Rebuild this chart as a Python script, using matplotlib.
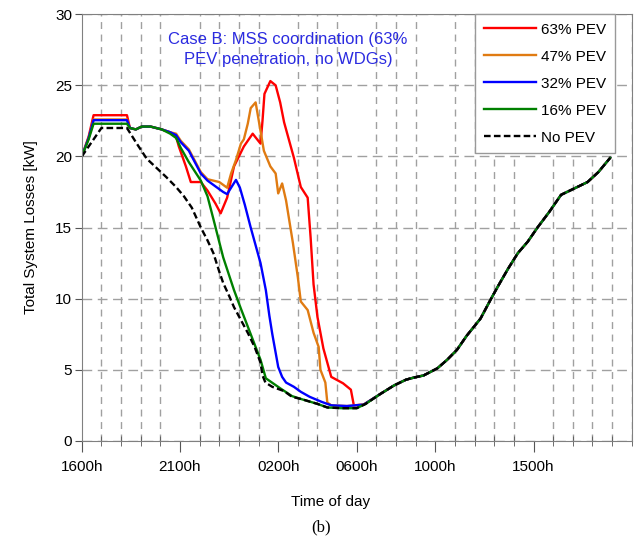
import numpy as np
import matplotlib
matplotlib.use("Agg")
import matplotlib.pyplot as plt

plt.rcParams['font.family'] = ['Liberation Sans', 'DejaVu Sans']

# hours after 1600h
tick_hours = [0, 5, 10, 14, 18, 23]
tick_labels = ['1600h', '2100h', '0200h', '0600h', '1000h', '1500h']

# common part once every case has finished charging
tail_h = [15.2, 15.9, 16.5, 16.9, 17.4, 18.1, 18.6, 19.1, 19.6, 20.3, 20.8, 21.2,
          21.7, 22.2, 22.7, 23.2, 23.8, 24.4, 25.0, 25.75, 26.3, 26.9]
tail_kw = [3.3, 3.9, 4.3, 4.45, 4.6, 5.1, 5.7, 6.4, 7.4, 8.6, 9.9, 10.9,
           12.1, 13.2, 14.0, 15.0, 16.1, 17.3, 17.7, 18.2, 18.9, 19.9]

pev63_h = [0, 0.35, 0.6, 2.3, 2.45, 2.75, 3.05, 3.5, 4.07, 4.5, 4.8, 4.94, 5.3, 5.55,
           6.06, 6.4, 6.8, 7.07, 7.4, 7.75, 8.0, 8.25, 8.7, 9.1, 9.2, 9.3, 9.6, 9.87,
           10.1, 10.3, 10.8, 11.15, 11.5, 11.65, 11.8, 12.0, 12.3, 12.7, 13.3, 13.7,
           13.85, 14.35]
pev63_kw = [20.0, 21.4, 22.9, 22.9, 22.0, 21.9, 22.1, 22.1, 21.9, 21.7, 21.4, 20.7, 19.3, 18.2,
            18.2, 17.6, 16.7, 16.0, 17.1, 19.3, 20.0, 20.7, 21.6, 20.9, 22.5, 24.4, 25.3, 25.0,
            23.8, 22.4, 19.9, 17.85, 17.1, 14.3, 11.0, 8.7, 6.5, 4.5, 4.05, 3.6,
            2.5, 2.55]

pev47_h = [0, 0.35, 0.6, 2.3, 2.45, 2.75, 3.05, 3.5, 4.07, 4.5, 4.8, 5.04, 5.45,
           6.06, 6.4, 6.7, 7.0, 7.2, 7.4, 7.6, 7.85, 8.1, 8.25, 8.45, 8.6, 8.85, 9.0,
           9.27, 9.6, 9.87, 10.0, 10.2, 10.4, 10.75, 11.0, 11.15, 11.5, 11.8, 12.06,
           12.15, 12.4, 12.5, 12.7, 13.5, 14.35]
pev47_kw = [20.0, 21.3, 22.6, 22.6, 22.0, 21.9, 22.1, 22.1, 21.9, 21.7, 21.6, 21.1, 20.5,
            18.9, 18.4, 18.3, 18.2, 18.0, 17.8, 18.8, 19.75, 20.9, 21.2, 22.3, 23.4, 23.8, 22.6,
            20.4, 19.3, 18.8, 17.4, 18.1, 16.9, 13.9, 11.5, 9.8, 9.2, 7.6, 6.6,
            5.0, 4.1, 2.7, 2.5, 2.45, 2.55]

pev32_h = [0, 0.35, 0.6, 2.3, 2.45, 2.75, 3.05, 3.5, 4.07, 4.5, 4.8, 5.04, 5.45,
           6.06, 6.4, 6.7, 7.2, 7.4, 7.6, 7.85, 8.05, 8.3, 8.6, 9.1, 9.37, 9.55, 9.7,
           10.0, 10.2, 10.4, 10.8, 11.15, 11.6, 12.2, 12.7, 13.5, 14.35]
pev32_kw = [20.0, 21.3, 22.55, 22.55, 22.0, 21.9, 22.1, 22.1, 21.9, 21.7, 21.5, 21.0, 20.4,
            18.8, 18.3, 18.0, 17.5, 17.35, 17.8, 18.35, 17.8, 16.6, 15.0, 12.5, 10.6, 8.8, 7.5,
            5.2, 4.5, 4.1, 3.8, 3.45, 3.1, 2.75, 2.5, 2.45, 2.55]

pev16_h = [0, 0.35, 0.6, 2.3, 2.45, 2.75, 3.05, 3.5, 4.07, 4.5, 4.8, 5.04, 5.45,
           6.06, 6.4, 6.7, 7.2, 7.75, 8.1, 8.6, 9.1, 9.37, 10.1, 10.7, 11.15, 12.0,
           12.5, 13.2, 14.0, 14.45]
pev16_kw = [20.0, 21.2, 22.3, 22.3, 22.0, 21.9, 22.1, 22.1, 21.9, 21.6, 21.3, 20.6, 19.6,
            18.3, 17.2, 15.6, 12.9, 10.6, 9.3, 7.5, 5.7, 4.4, 3.7, 3.15, 2.95, 2.6,
            2.35, 2.3, 2.3, 2.6]

nopev_h = [0, 0.5, 1.0, 2.3, 2.8, 3.3, 3.8, 4.3, 4.8, 5.2, 5.6, 6.06, 6.4, 6.7, 7.0,
           7.2, 7.5, 7.75, 8.1, 8.45, 8.8, 9.1, 9.2, 9.35, 9.7, 10.3, 10.7, 11.15, 12.0,
           12.5, 13.2, 14.0, 14.45]
nopev_kw = [20.0, 21.0, 22.0, 22.0, 20.9, 19.85, 19.2, 18.55, 17.85, 17.2, 16.4, 15.0, 14.1, 13.2, 11.9,
            11.1, 10.2, 9.4, 8.5, 7.6, 6.6, 5.5, 4.6, 4.1, 3.8, 3.5, 3.1, 2.95, 2.6,
            2.35, 2.3, 2.3, 2.6]

series = [
    ('63% PEV', pev63_h, pev63_kw, '#ff0000', '-'),
    ('47% PEV', pev47_h, pev47_kw, '#e07b12', '-'),
    ('32% PEV', pev32_h, pev32_kw, '#0000ff', '-'),
    ('16% PEV', pev16_h, pev16_kw, '#008000', '-'),
    ('No PEV', nopev_h, nopev_kw, 'black', (0, (2.8, 1.4))),
]

fig = plt.figure(figsize=(6.44, 5.47), dpi=100)
ax = fig.add_axes([0.127, 0.194, 0.854, 0.780])

for name, h, kw, col, ls in series:
    ax.plot(h + tail_h, kw + tail_kw, color=col, linestyle=ls, lw=1.7, label=name)

ax.set_xlim(0, 28)
ax.set_ylim(0, 30)
ax.set_xticks(tick_hours)
ax.set_xticklabels(tick_labels, fontsize=11)
ax.set_xticks(np.arange(0, 29, 1), minor=True)
ax.set_yticks(np.arange(0, 31, 5))
ax.tick_params(axis='y', labelsize=11, direction='out', length=5, pad=2, color='#555555')
ax.tick_params(axis='x', which='major', direction='out', length=8, pad=6, color='#555555')
ax.tick_params(axis='x', which='minor', direction='inout', length=7, color='#555555')

# dashed grid: every hour vertically, every 5 kW horizontally
ax.grid(True, axis='x', which='minor', color='#a0a0a0', linestyle=(0, (5, 4)), lw=1)
ax.grid(True, axis='y', which='major', color='#a0a0a0', linestyle=(0, (7, 4)), lw=1)
for sp in ax.spines.values():
    sp.set_color('#808080')

ax.set_xlabel('Time of day', fontsize=11, va='top')
ax.xaxis.set_label_coords(0.453, -0.126)
ax.set_ylabel('Total System Losses [kW]', fontsize=11)
ax.yaxis.set_label_coords(-0.08, 0.5)

ax.text(0.375, 0.917, 'Case B: MSS coordination (63%\nPEV penetration, no WDGs)',
        transform=ax.transAxes, ha='center', va='center', color='#2b2be0',
        fontsize=12, linespacing=1.4)

leg = ax.legend(loc='upper right', bbox_to_anchor=(0.969, 1.0), borderaxespad=0,
                fontsize=11, handlelength=3.4, handletextpad=0.35, labelspacing=0.85,
                borderpad=0.55, fancybox=False, framealpha=1, edgecolor='#999999')
leg.get_frame().set_linewidth(1)

fig.text(0.498, 0.036, '(b)', family=['Liberation Serif', 'DejaVu Serif'],
         fontsize=12, ha='center', va='center')

fig.savefig('out.png', dpi=100)
